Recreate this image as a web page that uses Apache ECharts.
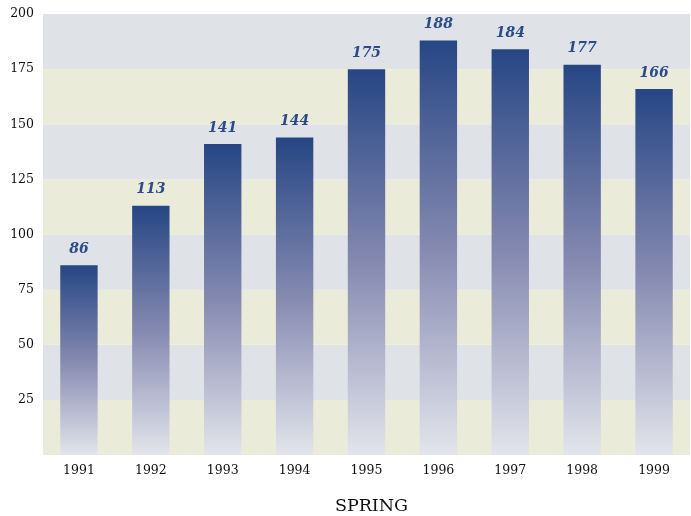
<!DOCTYPE html>
<html>
<head>
<meta charset="utf-8">
<script src="https://cdn.jsdelivr.net/npm/echarts@6/dist/echarts.min.js"></script>
<style>
  html, body { margin: 0; padding: 0; background: #fff; }
  #chart { width: 691px; height: 516px; }
</style>
</head>
<body>
<div id="chart"></div>
<script>
const years = ["1991", "1992", "1993", "1994", "1995", "1996", "1997", "1998", "1999"];
const values = [86, 113, 141, 144, 175, 188, 184, 177, 166];
const yTicks = [0, 25, 50, 75, 100, 125, 150, 175, 200];

const serif = "'DejaVu Serif', 'Liberation Serif', serif";
const chart = echarts.init(document.getElementById("chart"));

const option = {
  animation: false,
  grid: { left: 43, right: 1, top: 14, bottom: 61, outerBoundsMode: "none", containLabel: false },
  xAxis: {
    type: "category",
    data: years,
    axisLine: { show: false },
    axisTick: { show: false },
    axisLabel: { color: "#111", fontFamily: serif, fontSize: 12.5, margin: 9 },
    name: "SPRING",
    nameLocation: "middle",
    nameGap: 42,
    nameTextStyle: { color: "#111", fontFamily: serif, fontSize: 17.5, padding: [0, 0, 0, 10] },
  },
  yAxis: {
    type: "value",
    min: yTicks[0],
    max: yTicks[yTicks.length - 1],
    interval: 25,
    axisLine: { show: false },
    axisTick: { show: false },
    splitLine: { show: false },
    splitArea: {
      show: true,
      areaStyle: { color: ["#ebebd9", "#dfe2e6"] },
    },
    axisLabel: {
      color: "#111",
      fontFamily: serif,
      fontSize: 12.5,
      margin: 9,
      formatter: (v) => (v === 0 ? "" : v),
    },
  },
  series: [
    {
      type: "bar",
      data: values,
      barWidth: "52%",
      itemStyle: {
        color: new echarts.graphic.LinearGradient(0, 0, 0, 1, [
          { offset: 0, color: "#264684" },
          { offset: 0.5, color: "#8589b0" },
          { offset: 1, color: "#e3e5eb" },
        ]),
      },
      label: {
        show: true,
        position: "top",
        distance: 9,
        color: "#2b4a8c",
        fontFamily: serif,
        fontSize: 14,
        fontWeight: "bold",
        fontStyle: "italic",
      },
    },
  ],
};

chart.setOption(option);
</script>
</body>
</html>
